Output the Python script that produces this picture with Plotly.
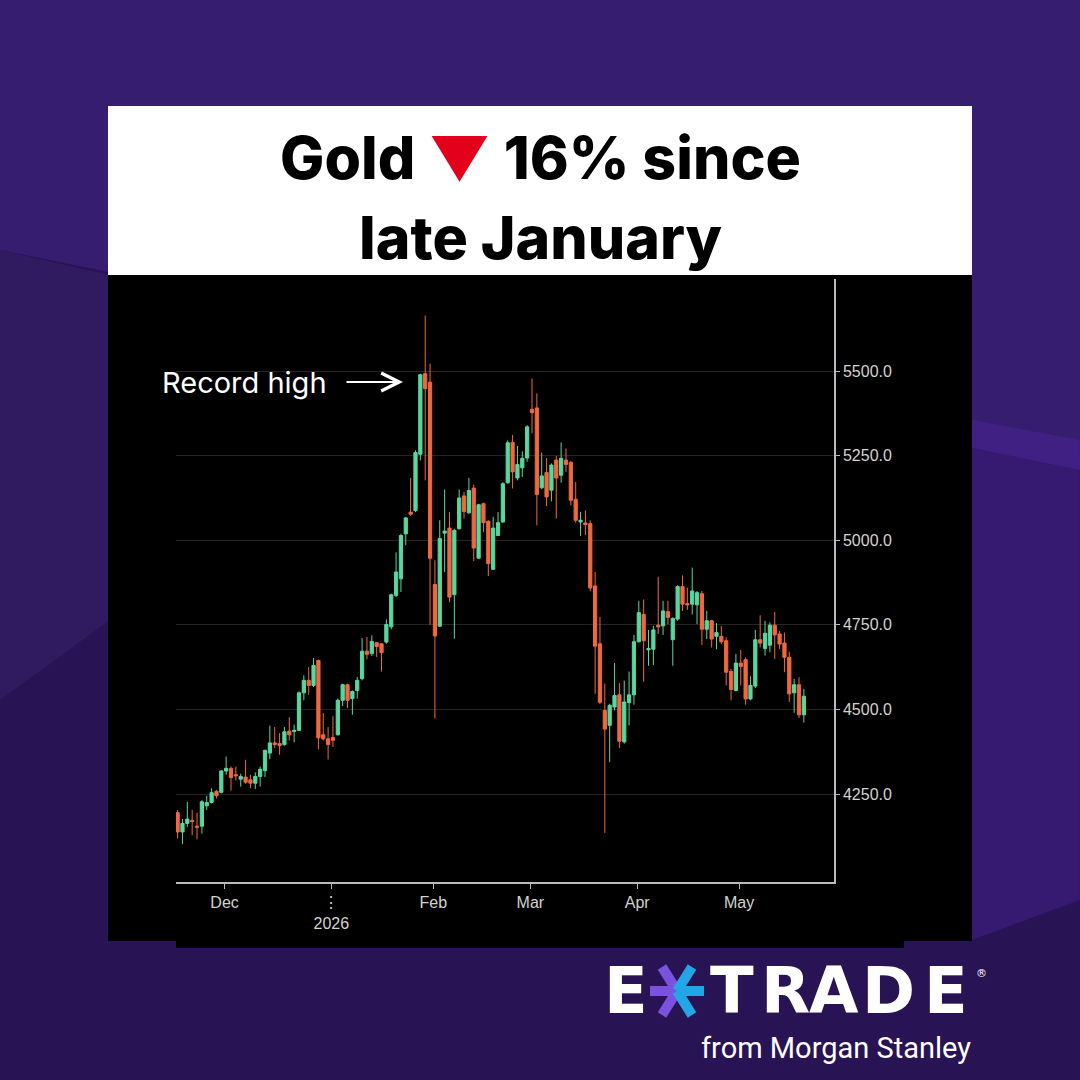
import pandas as pd
import plotly.graph_objects as go

# ---------------- data ----------------
START = "2025-11-17"
END = "2026-05-20"
HOLIDAYS = ["2025-12-25", "2026-01-01", "2026-04-03"]

OPEN = [4195, 4138, 4163, 4172, 4155, 4155, 4215, 4225, 4258, 4255,
        4318, 4326, 4307, 4294, 4300, 4292, 4282, 4302, 4319, 4371,
        4401, 4399, 4396, 4436, 4435, 4438, 4549, 4586, 4571, 4645,
        4425, 4413, 4417, 4425, 4527, 4573, 4532, 4556, 4591, 4672,
        4665, 4697, 4694, 4699, 4744, 4837, 4886, 5019, 5083, 5088,
        5254, 5492, 5467, 4869, 4746, 5021, 5036, 4839, 5034, 5131,
        5081, 5154, 4947, 5108, 5056, 4914, 5014, 5054, 5170, 5289,
        5184, 5214, 5243, 5387, 5391, 5155, 5200, 5148, 5237, 5192,
        5237, 5230, 5121, 5054, 5051, 5049, 4865, 4694, 4497, 4453,
        4507, 4543, 4404, 4520, 4543, 4700, 4781, 4676, 4678, 4749,
        4747, 4789, 4706, 4767, 4863, 4813, 4811, 4809, 4842, 4737,
        4762, 4716, 4716, 4703, 4612, 4556, 4637, 4647, 4531, 4569,
        4706, 4680, 4690, 4749, 4723, 4696, 4654, 4549, 4573, 4484]
HIGH = [4203, 4176, 4227, 4203, 4195, 4232, 4245, 4267, 4262, 4321,
        4361, 4331, 4331, 4310, 4351, 4307, 4314, 4331, 4381, 4452,
        4448, 4430, 4448, 4477, 4455, 4553, 4601, 4625, 4652, 4647,
        4489, 4448, 4480, 4532, 4576, 4576, 4556, 4596, 4711, 4714,
        4719, 4699, 4694, 4766, 4842, 4964, 5019, 5069, 5184, 5266,
        5492, 5664, 5522, 4941, 5059, 5150, 5083, 5034, 5150, 5143,
        5184, 5164, 5108, 5111, 5059, 5069, 5083, 5172, 5295, 5311,
        5279, 5263, 5340, 5478, 5434, 5259, 5243, 5227, 5249, 5289,
        5271, 5234, 5172, 5084, 5088, 5059, 4906, 4773, 4576, 4517,
        4637, 4578, 4585, 4612, 4720, 4821, 4825, 4735, 4747, 4892,
        4821, 4821, 4772, 4867, 4896, 4860, 4919, 4850, 4850, 4791,
        4765, 4755, 4747, 4713, 4620, 4664, 4676, 4654, 4598, 4735,
        4778, 4762, 4757, 4788, 4732, 4727, 4671, 4590, 4595, 4561]
LOW = [4119, 4102, 4153, 4128, 4116, 4133, 4203, 4222, 4237, 4252,
       4307, 4260, 4290, 4272, 4280, 4267, 4265, 4272, 4300, 4353,
       4386, 4366, 4393, 4408, 4403, 4436, 4527, 4543, 4566, 4382,
       4408, 4352, 4389, 4423, 4510, 4504, 4484, 4532, 4586, 4648,
       4658, 4655, 4612, 4694, 4737, 4832, 4847, 4985, 5072, 5083,
       5236, 5177, 4750, 4473, 4744, 4906, 4817, 4709, 5032, 5064,
       5078, 4938, 4945, 5024, 4894, 4912, 5012, 5052, 5167, 5153,
       5177, 5187, 5232, 5316, 5044, 5151, 5101, 5115, 5064, 5170,
       5202, 5103, 5052, 5013, 5015, 4849, 4546, 4516, 4135, 4344,
       4497, 4386, 4399, 4453, 4514, 4698, 4582, 4629, 4631, 4723,
       4720, 4752, 4629, 4762, 4791, 4794, 4781, 4752, 4690, 4708,
       4683, 4678, 4693, 4571, 4527, 4553, 4571, 4514, 4527, 4563,
       4683, 4659, 4669, 4649, 4678, 4610, 4522, 4490, 4475, 4461]
CLOSE = [4138, 4163, 4176, 4169, 4152, 4227, 4225, 4254, 4245, 4318,
         4326, 4299, 4304, 4302, 4285, 4282, 4302, 4323, 4379, 4401,
         4396, 4393, 4434, 4425, 4438, 4549, 4586, 4571, 4630, 4416,
         4413, 4396, 4409, 4527, 4573, 4527, 4553, 4586, 4672, 4663,
         4701, 4686, 4668, 4751, 4839, 4906, 5014, 5066, 5077, 5259,
         5489, 5448, 4947, 4717, 5005, 5027, 4832, 5029, 5125, 5085,
         5147, 4977, 5105, 5052, 4931, 5036, 5052, 5167, 5288, 5202,
         5224, 5242, 5335, 5377, 5135, 5190, 5128, 5222, 5184, 5242,
         5224, 5118, 5059, 5059, 5046, 4859, 4687, 4521, 4442, 4512,
         4541, 4406, 4522, 4543, 4700, 4786, 4703, 4680, 4735, 4744,
         4791, 4772, 4769, 4863, 4811, 4809, 4850, 4845, 4737, 4762,
         4708, 4727, 4700, 4610, 4559, 4637, 4627, 4531, 4571, 4706,
         4696, 4725, 4749, 4720, 4693, 4654, 4546, 4573, 4484, 4539]

Y_TICKS = [4250, 4500, 4750, 5000, 5250, 5500]
X_TICKVALS = ["2025-12-01", "2026-01-02", "2026-02-02", "2026-03-02", "2026-04-01", "2026-05-01"]
X_TICKTEXT = ["Dec", "\u22ee<br>2026", "Feb", "Mar", "Apr", "May"]

TITLE_1 = "Gold <span style='color:#e3001b'>\u25bc</span> 16% since"
TITLE_2 = "late January"
NOTE = "Record high"
LOGO_LETTERS = ["E", "T", "R", "A", "D", "E"]
LOGO_SUB = "from Morgan Stanley"

# --------------- dates ---------------
dates = pd.bdate_range(START, END, freq="C", holidays=HOLIDAYS) + pd.Timedelta(hours=8)

GREEN = "#5ad69f"
RED = "#ef6840"

fig = go.Figure(go.Candlestick(
    x=dates, open=OPEN, high=HIGH, low=LOW, close=CLOSE,
    increasing=dict(line=dict(color=GREEN, width=1), fillcolor=GREEN),
    decreasing=dict(line=dict(color=RED, width=1), fillcolor=RED),
    whiskerwidth=0, showlegend=False, hoverinfo="skip",
))

# ---------- layout geometry (pixels -> paper) ----------
W = H = 1080
L, R, T, B = 176, 834, 279, 882


def px(x):
    return (x - L) / (R - L)


def py(y):
    return (B - y) / (B - T)


def rect(x0, y0, x1, y1, color, layer="below"):
    return dict(type="rect", xref="paper", yref="paper",
                x0=px(x0), x1=px(x1), y0=py(y1), y1=py(y0),
                fillcolor=color, line=dict(width=0), layer=layer)


def poly(points, color):
    d = "M " + " L ".join(f"{px(a):.5f},{py(b):.5f}" for a, b in points) + " Z"
    return dict(type="path", xref="paper", yref="paper", path=d,
                fillcolor=color, line=dict(width=0), layer="below")


def seg(x0, y0, x1, y1, color, width):
    return dict(type="line", xref="paper", yref="paper",
                x0=px(x0), y0=py(y0), x1=px(x1), y1=py(y1),
                line=dict(color=color, width=width), layer="above")


PURPLE = "#7b52e0"
CYAN = "#22a6e6"
shapes = [
    # background planes
    poly([(0, 0), (1080, 0), (1080, 470), (0, 250)], "rgba(72,40,140,0.35)"),
    poly([(0, 250), (1080, 470), (1080, 1080), (0, 1080)], "rgba(20,8,50,0.25)"),
    poly([(0, 250), (110, 275), (110, 620), (0, 700)], "rgba(90,60,150,0.18)"),
    poly([(972, 420), (1080, 440), (1080, 900), (972, 940)], "rgba(90,40,180,0.30)"),
    # panels
    rect(108, 106, 972, 275, "#ffffff"),
    rect(108, 275, 972, 941, "#000000"),
    rect(176, 275, 904, 948, "#000000"),
    # logo asterisk
    seg(677, 991, 650, 991, PURPLE, 10),
    seg(677, 991, 662, 967, PURPLE, 10),
    seg(677, 991, 662, 1015, PURPLE, 10),
    seg(677, 991, 704, 991, CYAN, 10),
    seg(677, 991, 692, 967, CYAN, 10),
    seg(677, 991, 692, 1015, CYAN, 10),
]

TITLE_FONT = dict(family="Inter, Roboto, sans-serif", size=59, color="#000000", weight=800)
LOGO_FONT = dict(family="DejaVu Sans", size=64, color="#ffffff", weight=700)
LOGO_X = [626, 732, 785, 834, 888, 946]

annotations = [
    dict(text=TITLE_1, x=px(540), y=py(157), xref="paper", yref="paper",
         xanchor="center", yanchor="middle", showarrow=False, font=TITLE_FONT),
    dict(text=TITLE_2, x=px(540), y=py(237), xref="paper", yref="paper",
         xanchor="center", yanchor="middle", showarrow=False, font=TITLE_FONT),
    dict(text=NOTE, x=px(329), y=py(382), xref="paper", yref="paper",
         xanchor="right", yanchor="middle", showarrow=False,
         font=dict(family="Inter, Roboto, sans-serif", size=29, color="#ffffff")),
    dict(text="", x=px(403), y=py(382), xref="paper", yref="paper",
         ax=-58, ay=0, showarrow=True, arrowhead=5, arrowsize=1.6,
         arrowwidth=2.2, arrowcolor="#ffffff"),
    dict(text="\u00ae", x=px(981), y=py(973), xref="paper", yref="paper",
         xanchor="center", yanchor="middle", showarrow=False,
         font=dict(family="DejaVu Sans", size=11, color="#ffffff")),
    dict(text=LOGO_SUB, x=px(973), y=py(1048), xref="paper", yref="paper",
         xanchor="right", yanchor="middle", showarrow=False,
         font=dict(family="Roboto, sans-serif", size=29, color="#ffffff")),
]
for letter, lx in zip(LOGO_LETTERS, LOGO_X):
    annotations.append(dict(text=letter, x=px(lx), y=py(991), xref="paper", yref="paper",
                            xanchor="center", yanchor="middle", showarrow=False,
                            font=LOGO_FONT))

AX_COLOR = "#b9b9b9"
TICK_FONT = dict(family="Liberation Sans, Arial, sans-serif", size=16, color="#d2d2d2")

fig.update_layout(
    width=W, height=H,
    margin=dict(l=L, r=W - R, t=T, b=H - B, pad=0),
    paper_bgcolor="#2f1760",
    plot_bgcolor="#000000",
    boxgap=0.05,
    shapes=shapes,
    annotations=annotations,
    xaxis=dict(
        type="date",
        range=["2025-11-17 00:00", "2026-05-28 13:00"],
        rangebreaks=[dict(bounds=["sat", "mon"]), dict(values=HOLIDAYS)],
        rangeslider=dict(visible=False),
        tickmode="array", tickvals=X_TICKVALS, ticktext=X_TICKTEXT,
        showgrid=False, zeroline=False,
        showline=True, linecolor=AX_COLOR, linewidth=1.5,
        ticks="outside", ticklen=5, tickwidth=1.2, tickcolor=AX_COLOR,
        tickfont=TICK_FONT,
    ),
    yaxis=dict(
        side="right",
        range=[3990, 5772],
        tickmode="array", tickvals=Y_TICKS,
        tickformat=".1f",
        showgrid=True, gridcolor="#242424", gridwidth=1,
        zeroline=False,
        showline=True, linecolor=AX_COLOR, linewidth=1.5,
        ticks="outside", ticklen=4, tickwidth=1, tickcolor=AX_COLOR,
        tickfont=TICK_FONT,
    ),
    font=dict(family="Liberation Sans, Arial, sans-serif"),
)

fig.write_html(
    "out.html",
    config={"displayModeBar": False},
    post_script="document.body.style.margin='0';document.body.style.background='#2f1760';",
)
